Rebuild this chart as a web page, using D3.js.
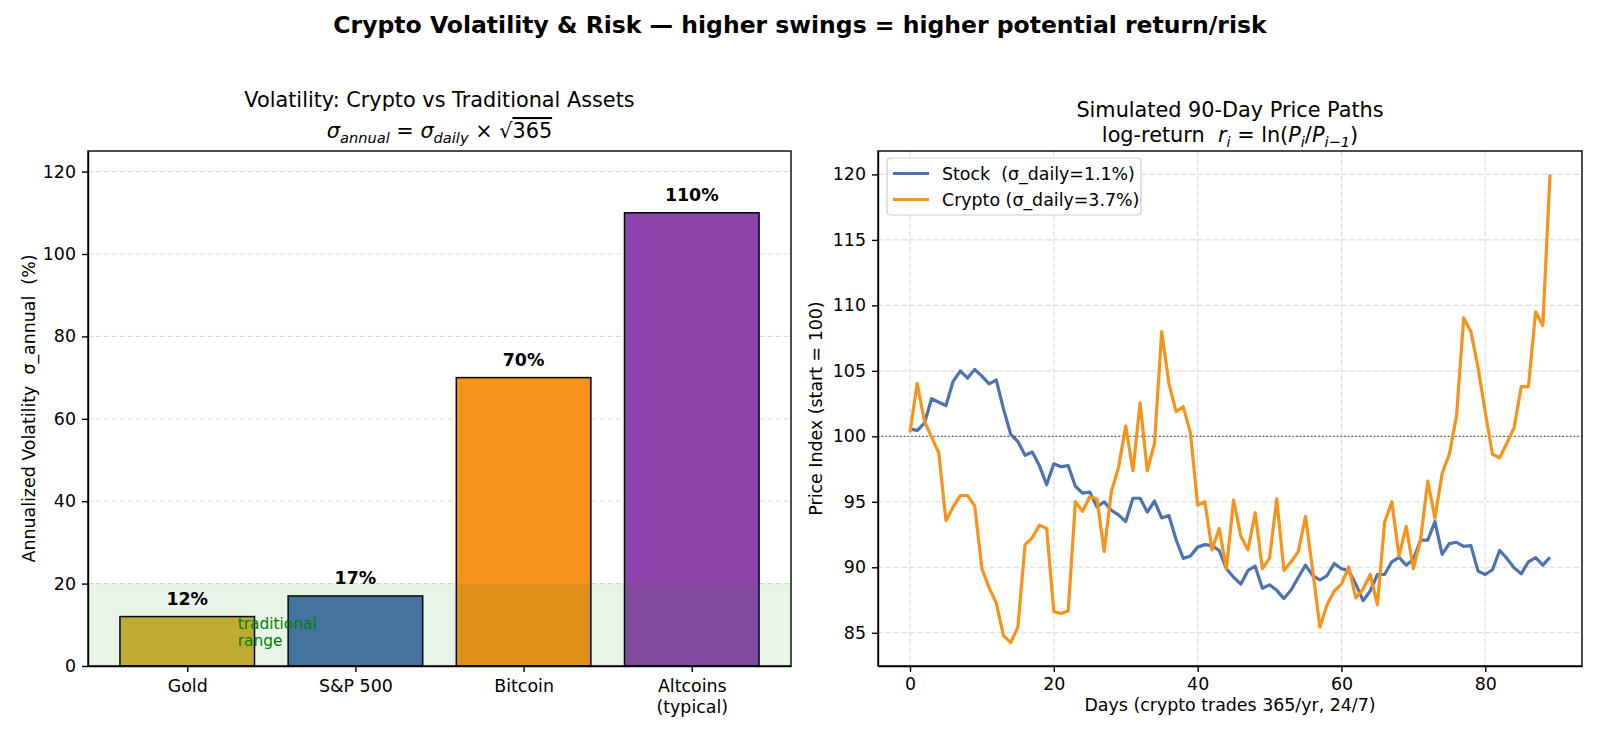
<!DOCTYPE html>
<html>
<head>
<meta charset="utf-8">
<script src="https://cdn.jsdelivr.net/npm/d3@7"></script>
<style>
  body { margin: 0; background: #fff; }
  text { font-family: "DejaVu Sans", sans-serif; fill: #000; white-space: pre; }
</style>
</head>
<body>
<div id="chart"></div>
<script>
// bar chart data
const assets = ["Gold", "S&P 500", "Bitcoin", "Altcoins\n(typical)"];
const annualVol = [12, 17, 70, 110];
const barColors = ["#d4af37", "#4c72b0", "#f7931a", "#8e44ad"];
const volTicks = [0, 20, 40, 60, 80, 100, 120];

// simulated price paths, one value per day
const stockPath = [100.57, 100.44, 101.0, 102.87, 102.6, 102.35, 104.2, 105.0, 104.45, 105.1,
  104.6, 104.0, 104.3, 102.1, 100.17, 99.6, 98.55, 98.8, 97.76, 96.3,
  97.9, 97.68, 97.76, 96.19, 95.66, 95.74, 94.6, 95.0, 94.35, 94.0,
  93.49, 95.27, 95.27, 94.22, 95.06, 93.77, 93.96, 92.12, 90.68, 90.86,
  91.54, 91.73, 91.65, 91.28, 89.89, 89.24, 88.71, 89.76, 90.08, 88.4,
  88.66, 88.24, 87.61, 88.27, 89.24, 90.16, 89.37, 89.03, 89.37, 90.29,
  89.89, 89.76, 88.71, 87.45, 88.19, 89.45, 89.45, 90.42, 90.76, 90.16,
  90.6, 92.07, 92.07, 93.49, 90.99, 91.81, 91.91, 91.6, 91.65, 89.71,
  89.45, 89.81, 91.28, 90.68, 89.97, 89.5, 90.42, 90.73, 90.16, 90.76];
const cryptoPath = [100.3, 104.05, 101.17, 99.94, 98.73, 93.56, 94.61, 95.48, 95.48, 94.69,
  89.89, 88.45, 87.27, 84.78, 84.25, 85.43, 91.73, 92.25, 93.22, 92.96,
  86.61, 86.48, 86.67, 95.01, 94.27, 95.4, 95.22, 91.2, 95.79, 97.63,
  100.78, 97.37, 102.56, 97.37, 99.47, 107.99, 104.05, 101.88, 102.27, 100.25,
  94.74, 95.01, 91.33, 92.96, 89.89, 95.14, 92.38, 91.33, 94.17, 89.89,
  90.68, 95.22, 89.76, 90.42, 91.2, 93.88, 89.76, 85.43, 87.14, 88.19,
  88.71, 90.02, 87.66, 88.32, 89.45, 87.14, 93.43, 95.01, 90.86, 93.12,
  89.89, 92.12, 96.58, 93.75, 97.16, 98.63, 101.56, 109.04, 107.99, 105.23,
  101.83, 98.63, 98.36, 99.47, 100.65, 103.79, 103.79, 109.51, 108.46, 120.0];
const priceTicks = [85, 90, 95, 100, 105, 110, 115, 120];
const dayTicks = [0, 20, 40, 60, 80];
const seriesNames = ["Stock  (σ_daily=1.1%)", "Crypto (σ_daily=3.7%)"];
const lineColors = ["#4c72b0", "#f7931a"];

const width = 1600, height = 738;
const fs = 17.4;       // 10pt at 125 dpi
const spine = 1.4;

const svg = d3.select("#chart").append("svg")
  .attr("width", width).attr("height", height);

// suptitle
svg.append("text")
  .attr("x", 800).attr("y", 33)
  .attr("text-anchor", "middle")
  .style("font-size", "23.5px").style("font-weight", "bold")
  .text("Crypto Volatility & Risk — higher swings = higher potential return/risk");

// ---------- left: bar chart ----------
const L = { left: 88, right: 791, top: 151, bottom: 666 };

const xBar = d3.scaleLinear().domain([-0.59, 3.59]).range([L.left, L.right]);
const yBar = d3.scaleLinear().domain([0, 125]).range([L.bottom, L.top]);
const barW = xBar(0.8) - xBar(0);

const left = svg.append("g");

// grid
left.selectAll(".grid").data(volTicks).enter().append("line")
  .attr("x1", L.left).attr("x2", L.right)
  .attr("y1", d => yBar(d)).attr("y2", d => yBar(d))
  .attr("stroke", "#b0b0b0").attr("stroke-opacity", 0.45)
  .attr("stroke-dasharray", "5.5,2.5").attr("stroke-width", 1.1);

// bars
left.selectAll(".bar").data(annualVol).enter().append("rect")
  .attr("x", (d, i) => xBar(i) - barW / 2)
  .attr("y", d => yBar(d))
  .attr("width", barW)
  .attr("height", d => yBar(0) - yBar(d))
  .attr("fill", (d, i) => barColors[i])
  .attr("stroke", "#000").attr("stroke-width", 1.5);

// traditional range band
left.append("rect")
  .attr("x", L.left).attr("y", yBar(20))
  .attr("width", L.right - L.left).attr("height", yBar(0) - yBar(20))
  .attr("fill", "green").attr("fill-opacity", 0.09);

left.append("text")
  .attr("y", 628.5)
  .style("font-size", "15.4px").style("fill", "green")
  .selectAll("tspan").data(["traditional", "range"]).enter().append("tspan")
  .attr("x", xBar(0.3)).attr("dy", (d, i) => i ? 17.5 : 0)
  .style("fill", "green")
  .text(d => d);

// value labels
left.selectAll(".val").data(annualVol).enter().append("text")
  .attr("x", (d, i) => xBar(i))
  .attr("y", d => yBar(d) - 12)
  .attr("text-anchor", "middle")
  .style("font-size", fs + "px").style("font-weight", "bold")
  .text(d => d + "%");

// axes
left.append("g")
  .attr("transform", `translate(${L.left},0)`)
  .call(d3.axisLeft(yBar).tickValues(volTicks).tickSize(6).tickSizeOuter(0).tickPadding(6));
const xAxisL = left.append("g")
  .attr("transform", `translate(0,${L.bottom})`)
  .call(d3.axisBottom(xBar).tickValues([0, 1, 2, 3]).tickSize(6).tickSizeOuter(0).tickFormat(""));

xAxisL.selectAll(".tick").append("text")
  .attr("y", 26).attr("text-anchor", "middle")
  .style("font-size", fs + "px")
  .each(function(d) {
    const lines = assets[d].split("\n");
    d3.select(this).selectAll("tspan").data(lines).enter().append("tspan")
      .attr("x", 0).attr("dy", (t, i) => i ? 20.7 : 0).text(t => t);
  });

left.append("rect")
  .attr("x", L.left).attr("y", L.top)
  .attr("width", L.right - L.left).attr("height", L.bottom - L.top)
  .attr("fill", "none").attr("stroke", "#000").attr("stroke-width", spine);

left.append("text")
  .attr("transform", `translate(34.5,${(L.top + L.bottom) / 2}) rotate(-90)`)
  .attr("text-anchor", "middle").style("font-size", fs + "px")
  .text("Annualized Volatility  σ_annual  (%)");

// title
const lcx = (L.left + L.right) / 2;
left.append("text").attr("x", lcx).attr("y", 107)
  .attr("text-anchor", "middle").style("font-size", "20.8px")
  .text("Volatility: Crypto vs Traditional Assets");
const lt2 = left.append("text").attr("x", lcx).attr("y", 138)
  .attr("text-anchor", "middle").style("font-size", "20.8px");
lt2.append("tspan").style("font-style", "italic").text("σ");
lt2.append("tspan").style("font-style", "italic").style("font-size", "14.6px").attr("dy", 5).text("annual");
lt2.append("tspan").attr("dy", -5).text(" = ");
lt2.append("tspan").style("font-style", "italic").text("σ");
lt2.append("tspan").style("font-style", "italic").style("font-size", "14.6px").attr("dy", 5).text("daily");
lt2.append("tspan").attr("dy", -5).text(" × √");
lt2.append("tspan").style("text-decoration", "overline").text("365");

// ---------- right: price paths ----------
const R = { left: 878, right: 1582, top: 151, bottom: 666 };
const allVals = stockPath.concat(cryptoPath);
const [ymin, ymax] = d3.extent(allVals);
const ypad = (ymax - ymin) * 0.05;

const xDay = d3.scaleLinear().domain([-4.45, 93.45]).range([R.left, R.right]);
const yPrice = d3.scaleLinear().domain([ymin - ypad, ymax + ypad]).range([R.bottom, R.top]);

const right = svg.append("g");

right.selectAll(".gy").data(priceTicks).enter().append("line")
  .attr("x1", R.left).attr("x2", R.right)
  .attr("y1", d => yPrice(d)).attr("y2", d => yPrice(d))
  .attr("stroke", "#b0b0b0").attr("stroke-opacity", 0.45)
  .attr("stroke-dasharray", "5.5,2.5").attr("stroke-width", 1.1);
right.selectAll(".gx").data(dayTicks).enter().append("line")
  .attr("y1", R.top).attr("y2", R.bottom)
  .attr("x1", d => xDay(d)).attr("x2", d => xDay(d))
  .attr("stroke", "#b0b0b0").attr("stroke-opacity", 0.45)
  .attr("stroke-dasharray", "5.5,2.5").attr("stroke-width", 1.1);

// start level
right.append("line")
  .attr("x1", R.left).attr("x2", R.right)
  .attr("y1", yPrice(100)).attr("y2", yPrice(100))
  .attr("stroke", "#555").attr("stroke-dasharray", "1.5,2.2").attr("stroke-width", 1.2);

const line = d3.line()
  .x((d, i) => xDay(i))
  .y(d => yPrice(d));

[stockPath, cryptoPath].forEach((s, k) => {
  right.append("path")
    .datum(s)
    .attr("d", line)
    .attr("fill", "none")
    .attr("stroke", lineColors[k])
    .attr("stroke-width", 3.2)
    .attr("stroke-linejoin", "round");
});

right.append("g")
  .attr("transform", `translate(${R.left},0)`)
  .call(d3.axisLeft(yPrice).tickValues(priceTicks).tickSize(6).tickSizeOuter(0).tickPadding(6));
right.append("g")
  .attr("transform", `translate(0,${R.bottom})`)
  .call(d3.axisBottom(xDay).tickValues(dayTicks).tickSize(6).tickSizeOuter(0).tickPadding(6));

right.append("rect")
  .attr("x", R.left).attr("y", R.top)
  .attr("width", R.right - R.left).attr("height", R.bottom - R.top)
  .attr("fill", "none").attr("stroke", "#000").attr("stroke-width", spine);

right.append("text")
  .attr("transform", `translate(822,${(R.top + R.bottom) / 2}) rotate(-90)`)
  .attr("text-anchor", "middle").style("font-size", fs + "px")
  .text("Price Index (start = 100)");
right.append("text")
  .attr("x", (R.left + R.right) / 2).attr("y", 711)
  .attr("text-anchor", "middle").style("font-size", fs + "px")
  .text("Days (crypto trades 365/yr, 24/7)");

// legend
const legend = right.append("g").attr("transform", "translate(887,158)");
legend.append("rect")
  .attr("width", 254).attr("height", 57).attr("rx", 3.5)
  .attr("fill", "#fff").attr("fill-opacity", 0.8)
  .attr("stroke", "#ccc").attr("stroke-width", 1.2);
seriesNames.forEach((name, i) => {
  legend.append("line")
    .attr("x1", 6).attr("x2", 42)
    .attr("y1", 15.5 + i * 26).attr("y2", 15.5 + i * 26)
    .attr("stroke", lineColors[i]).attr("stroke-width", 3.2);
  legend.append("text")
    .attr("x", 55).attr("y", 21.5 + i * 26)
    .style("font-size", fs + "px")
    .text(name);
});

// title
const rcx = (R.left + R.right) / 2;
right.append("text").attr("x", rcx).attr("y", 117)
  .attr("text-anchor", "middle").style("font-size", "20.8px")
  .text("Simulated 90-Day Price Paths");
const rt2 = right.append("text").attr("x", rcx).attr("y", 142)
  .attr("text-anchor", "middle").style("font-size", "20.8px");
rt2.append("tspan").text("log-return  ");
rt2.append("tspan").style("font-style", "italic").text("r");
rt2.append("tspan").style("font-style", "italic").style("font-size", "14.6px").attr("dy", 5).text("i");
rt2.append("tspan").attr("dy", -5).text(" = ln(");
rt2.append("tspan").style("font-style", "italic").text("P");
rt2.append("tspan").style("font-style", "italic").style("font-size", "14.6px").attr("dy", 5).text("i");
rt2.append("tspan").attr("dy", -5).text("/");
rt2.append("tspan").style("font-style", "italic").text("P");
rt2.append("tspan").style("font-style", "italic").style("font-size", "14.6px").attr("dy", 5).text("i−1");
rt2.append("tspan").attr("dy", -5).text(")");

// tick styling
svg.selectAll(".tick text").style("font-size", fs + "px").style("font-family", "DejaVu Sans, sans-serif");
svg.selectAll(".tick line").attr("stroke-width", spine);
svg.selectAll(".domain").attr("stroke", "#000").attr("stroke-width", spine);
</script>
</body>
</html>
